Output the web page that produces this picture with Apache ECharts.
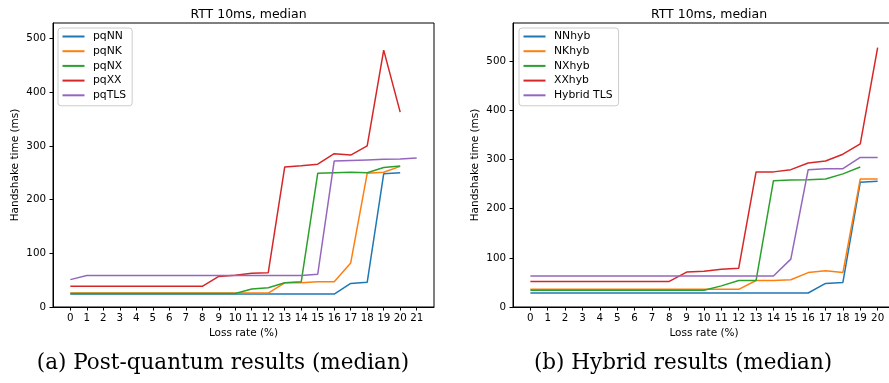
<!DOCTYPE html>
<html>
<head>
<meta charset="utf-8">
<script src="https://cdn.jsdelivr.net/npm/echarts@6/dist/echarts.min.js"></script>
<style>
  html, body { margin: 0; padding: 0; background: #fff; }
  #chart { width: 889px; height: 383px; }
</style>
</head>
<body>
<div id="chart"></div>
<script>
// tick labels
const ticksPq = [0, 1, 2, 3, 4, 5, 6, 7, 8, 9, 10, 11, 12, 13, 14, 15, 16, 17, 18, 19, 20, 21];
const ticksHyb = [0, 1, 2, 3, 4, 5, 6, 7, 8, 9, 10, 11, 12, 13, 14, 15, 16, 17, 18, 19, 20];
const yTicks = [0, 100, 200, 300, 400, 500];

// (a) post-quantum, index = loss rate
const pqNN = [24, 24, 24, 24, 24, 24, 24, 24, 24, 24, 24, 24, 24, 24, 24, 24, 24, 44, 46, 248, 250];
const pqNK = [26, 26, 26, 26, 26, 26, 26, 26, 26, 26, 26, 26, 26, 45, 45, 47, 47, 82, 249, 251, 262];
const pqNX = [25, 25, 25, 25, 25, 25, 25, 25, 25, 25, 25, 33.5, 36, 45, 47, 249, 250, 251, 250, 260, 262.5];
const pqXX = [38.5, 38.5, 38.5, 38.5, 38.5, 38.5, 38.5, 38.5, 38.5, 57, 59, 63, 64, 261, 263, 266, 285.5, 283, 300, 478.5, 363];
const pqTLS = [51, 58.5, 58.5, 58.5, 58.5, 58.5, 58.5, 58.5, 58.5, 58.5, 58.5, 58.5, 58.5, 58.5, 58.5, 61, 272, 273, 274, 275, 275.5, 277.5];

// (b) hybrid
const NNhyb = [28.5, 28.5, 28.5, 28.5, 28.5, 28.5, 28.5, 28.5, 28.5, 28.5, 28.5, 28.5, 28.5, 28.5, 28.5, 28.5, 28.5, 48, 50, 254, 256];
const NKhyb = [36, 36, 36, 36, 36, 36, 36, 36, 36, 36, 36, 36, 36, 54, 54, 55.5, 70, 74, 70, 260.5, 260.5];
const NXhyb = [34, 34, 34, 34, 34, 34, 34, 34, 34, 34, 34, 43, 54, 54, 257, 258.5, 259, 260.5, 271, 285];
const XXhyb = [52, 52, 52, 52, 52, 52, 52, 52, 52, 71, 73, 77, 79, 275, 275, 279.5, 293, 297, 311, 332, 528];
const hybTLS = [63, 63, 63, 63, 63, 63, 63, 63, 63, 63, 63, 63, 63, 63, 63, 97.5, 279.5, 281.5, 281.5, 304.5, 304.5];

const colors = ['#1f77b4', '#ff7f0e', '#2ca02c', '#d62728', '#9467bd'];
const FONT = 'DejaVu Sans';

const chart = echarts.init(document.getElementById('chart'), null, { renderer: 'canvas' });

function pairs(vals) {
  return vals.map((v, i) => [i, v]);
}

function line(name, vals, idx, color) {
  return {
    name: name,
    type: 'line',
    xAxisIndex: idx,
    yAxisIndex: idx,
    data: pairs(vals),
    symbol: 'none',
    showSymbol: false,
    animation: false,
    color: color,
    lineStyle: { width: 1.5, color: color },
    emphasis: { disabled: true }
  };
}

function xAxis(idx, min, max, ticks) {
  return {
    type: 'value',
    gridIndex: idx,
    min: min,
    max: max,
    name: 'Loss rate (%)',
    nameLocation: 'middle',
    nameGap: 18,
    nameTextStyle: { fontFamily: FONT, fontSize: 10.5, color: '#000' },
    axisLine: { show: true, onZero: false, lineStyle: { color: '#000', width: 1 } },
    axisTick: { show: true, length: 3.5, customValues: ticks, lineStyle: { color: '#000' } },
    axisLabel: { customValues: ticks, margin: 6, fontFamily: FONT, fontSize: 10.3, color: '#000' },
    splitLine: { show: false }
  };
}

function yAxis(idx, max) {
  return {
    type: 'value',
    gridIndex: idx,
    min: 0,
    max: max,
    name: 'Handshake time (ms)',
    nameLocation: 'middle',
    nameGap: 32,
    nameTextStyle: { fontFamily: FONT, fontSize: 10.5, color: '#000' },
    axisLine: { show: true, onZero: false, lineStyle: { color: '#000', width: 1 } },
    axisTick: { show: true, length: 3.5, customValues: yTicks, lineStyle: { color: '#000' } },
    axisLabel: { customValues: yTicks, margin: 7, fontFamily: FONT, fontSize: 10.3, color: '#000' },
    splitLine: { show: false }
  };
}

function legend(names, left) {
  return {
    data: names,
    orient: 'vertical',
    left: left,
    top: 28,
    padding: [3, 6, 5, 3.5],
    itemWidth: 22,
    itemHeight: 12,
    itemGap: 3.7,
    itemStyle: { opacity: 0 },
    borderColor: '#cccccc',
    borderWidth: 1,
    borderRadius: 3,
    backgroundColor: 'rgba(255,255,255,0.8)',
    selectedMode: false,
    textStyle: { fontFamily: FONT, fontSize: 10.8, color: '#000', padding: [0, 0, 0, 3.5] }
  };
}

const pqNames = ['pqNN', 'pqNK', 'pqNX', 'pqXX', 'pqTLS'];
const hybNames = ['NNhyb', 'NKhyb', 'NXhyb', 'XXhyb', 'Hybrid TLS'];

const titleStyle = { fontFamily: FONT, fontSize: 12.5, fontWeight: 'normal', color: '#000' };

const option = {
  backgroundColor: '#fff',
  animation: false,
  title: [
    { text: 'RTT 10ms, median', left: 243.5, top: 3, textAlign: 'center', textStyle: titleStyle },
    { text: 'RTT 10ms, median', left: 704, top: 3, textAlign: 'center', textStyle: titleStyle }
  ],
  grid: [
    { left: 53, top: 23, width: 381, height: 284, show: true, borderColor: '#000', borderWidth: 1, outerBoundsMode: 'none' },
    { left: 513, top: 23, width: 382, height: 284, show: true, borderColor: '#000', borderWidth: 1, outerBoundsMode: 'none' }
  ],
  xAxis: [xAxis(0, -1.05, 22.05, ticksPq), xAxis(1, -1, 21, ticksHyb)],
  yAxis: [yAxis(0, 529), yAxis(1, 578)],
  legend: [legend(pqNames, 58), legend(hybNames, 519)],
  series: [
    line('pqNN', pqNN, 0, colors[0]),
    line('pqNK', pqNK, 0, colors[1]),
    line('pqNX', pqNX, 0, colors[2]),
    line('pqXX', pqXX, 0, colors[3]),
    line('pqTLS', pqTLS, 0, colors[4]),
    line('NNhyb', NNhyb, 1, colors[0]),
    line('NKhyb', NKhyb, 1, colors[1]),
    line('NXhyb', NXhyb, 1, colors[2]),
    line('XXhyb', XXhyb, 1, colors[3]),
    line('Hybrid TLS', hybTLS, 1, colors[4])
  ],
  graphic: [
    { type: 'text', x: 223, y: 363,
      style: { text: '(a) Post-quantum results (median)', font: '21.5px "DejaVu Serif"', fill: '#000', align: 'center', verticalAlign: 'middle' } },
    { type: 'text', x: 683, y: 363,
      style: { text: '(b) Hybrid results (median)', font: '21.5px "DejaVu Serif"', fill: '#000', align: 'center', verticalAlign: 'middle' } }
  ]
};

chart.setOption(option);
</script>
</body>
</html>
